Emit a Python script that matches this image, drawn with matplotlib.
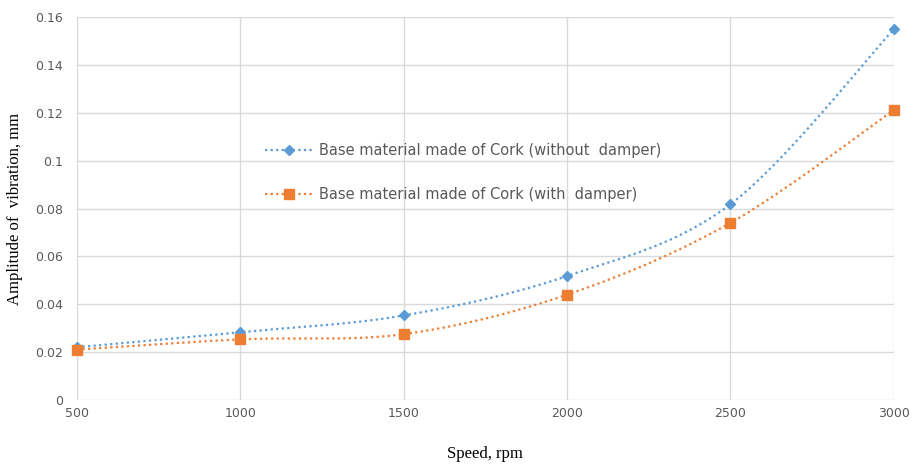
import numpy as np
import matplotlib
matplotlib.use('Agg')
import matplotlib.pyplot as plt
from matplotlib.lines import Line2D

speed = [500, 1000, 1500, 2000, 2500, 3000]
without_damper = [0.022, 0.0283, 0.0353, 0.0518, 0.0818, 0.155]
with_damper = [0.021, 0.0253, 0.0275, 0.0440, 0.0740, 0.1212]
labels = ['Base material made of Cork (without  damper)',
          'Base material made of Cork (with  damper)']
blue = '#5b9bd5'
orange = '#ed7d31'


def smooth(x, y, n=40):
    # Excel-style smoothed line: cubic bezier, control points from neighbours
    x = np.asarray(x, float)
    y = np.asarray(y, float)
    px, py = [], []
    for i in range(len(x) - 1):
        x0, y0 = (x[i - 1], y[i - 1]) if i > 0 else (x[i], y[i])
        x3, y3 = (x[i + 2], y[i + 2]) if i + 2 < len(x) else (x[i + 1], y[i + 1])
        c1 = (x[i] + (x[i + 1] - x0) / 6, y[i] + (y[i + 1] - y0) / 6)
        c2 = (x[i + 1] - (x3 - x[i]) / 6, y[i + 1] - (y3 - y[i]) / 6)
        t = np.linspace(0, 1, n)
        bx = (1-t)**3*x[i] + 3*(1-t)**2*t*c1[0] + 3*(1-t)*t**2*c2[0] + t**3*x[i+1]
        by = (1-t)**3*y[i] + 3*(1-t)**2*t*c1[1] + 3*(1-t)*t**2*c2[1] + t**3*y[i+1]
        px.extend(bx)
        py.extend(by)
    return np.array(px), np.array(py)


fig = plt.figure(figsize=(9.13, 4.65), dpi=100)
ax = fig.add_axes([0.0843, 0.14, 0.8947, 0.823])

for yv, col, mk, ms in [(without_damper, blue, 'D', 5.5), (with_damper, orange, 's', 7.5)]:
    sx, sy = smooth(speed, yv)
    ax.plot(sx, sy, color=col, lw=1.6, ls=(0, (1, 1.5)), zorder=3, clip_on=False)
    ax.plot(speed, yv, ls='none', marker=mk, color=col, ms=ms, zorder=4, clip_on=False)

ax.set_xlim(500, 3000)
ax.set_ylim(0, 0.16)
ax.set_xticks(speed)
ax.set_yticks(np.arange(0, 0.161, 0.02))
ax.set_yticklabels(['0', '0.02', '0.04', '0.06', '0.08', '0.1', '0.12', '0.14', '0.16'])
ax.set_xticklabels([str(s) for s in speed])
ax.grid(True, color='#d9d9d9', lw=1)
ax.set_axisbelow(True)
for s in ax.spines.values():
    s.set_visible(False)
ax.tick_params(length=0, labelsize=9, labelcolor='#595959')
ax.tick_params(axis='y', pad=10)
ax.tick_params(axis='x', pad=5)

ax.set_xlabel('Speed, rpm', family='Liberation Serif', fontsize=12, labelpad=19)
ax.set_ylabel('Amplitude of  vibration, mm', family='Liberation Serif', fontsize=12, labelpad=9)

handles = [Line2D([], [], color=blue, lw=1.6, ls=(0, (1, 1.5)), marker='D', ms=5.5),
           Line2D([], [], color=orange, lw=1.6, ls=(0, (1, 1.5)), marker='s', ms=7.5)]
leg = fig.legend(handles, labels, loc='upper left', bbox_to_anchor=(0.276, 0.72),
                 frameon=False, fontsize=10.5, labelspacing=2.0, handlelength=3.3,
                 handletextpad=0.4, labelcolor='#595959')

fig.savefig('out.png', dpi=100)
